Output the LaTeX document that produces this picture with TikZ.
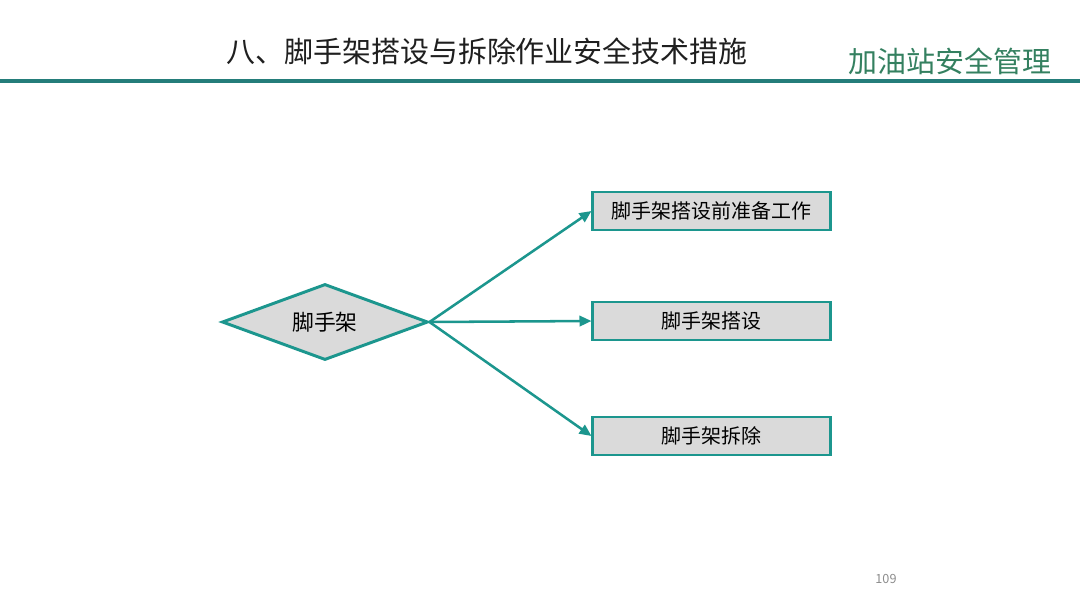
\documentclass[tikz,border=0pt]{standalone}
\usepackage{fontspec}
\setmainfont{Noto Sans CJK SC}
\usepackage{tikz}
\usetikzlibrary{arrows.meta,shapes.geometric}
\usepackage{xcolor}

\begin{document}
\begin{tikzpicture}[x=0.025cm,y=-0.025cm,>={Triangle[length=3mm,width=2.6mm]},
  stagebox/.style={draw=tealline,fill=boxfill,line width=2.1pt,minimum width=59.25mm,minimum height=9.5mm,inner sep=0pt,font=\fontsize{14.2pt}{16pt}\selectfont},
  flowarrow/.style={->,draw=tealline,line width=1.8pt}]
\definecolor{tealline}{RGB}{28,150,142}
\definecolor{boxfill}{RGB}{218,218,218}
\definecolor{headline}{RGB}{36,125,122}
\definecolor{brandgreen}{RGB}{52,128,96}
\useasboundingbox (0,0) rectangle (1080,608);
% header
\node[text=black!88,font=\fontsize{20.6pt}{24pt}\selectfont] (title) at (487,51) {八、脚手架搭设与拆除作业安全技术措施};
\node[text=brandgreen,font=\fontsize{20.6pt}{24pt}\selectfont] (brand) at (950,61) {加油站安全管理};
\draw[headline,line width=2.2pt] (0,81) -- (1080,81);
% diagram
\node[diamond,aspect=2.7,draw=tealline,fill=boxfill,line width=2.1pt,minimum width=51.5mm,minimum height=19mm,inner sep=0pt,font=\fontsize{15.5pt}{18pt}\selectfont] (root) at (325,322) {脚手架};
\node[stagebox] (prep) at (711.5,211) {脚手架搭设前准备工作};
\node[stagebox] (build) at (711.5,321) {脚手架搭设};
\node[stagebox] (remove) at (711.5,436) {脚手架拆除};
\draw[flowarrow] (root.east) -- (prep.west);
\draw[flowarrow] (root.east) -- (build.west);
\draw[flowarrow] (root.east) -- (remove.west);
% page number
\node[text=black!45,font=\fontsize{9pt}{10pt}\selectfont] (page) at (886,579) {109};
\end{tikzpicture}
\end{document}
